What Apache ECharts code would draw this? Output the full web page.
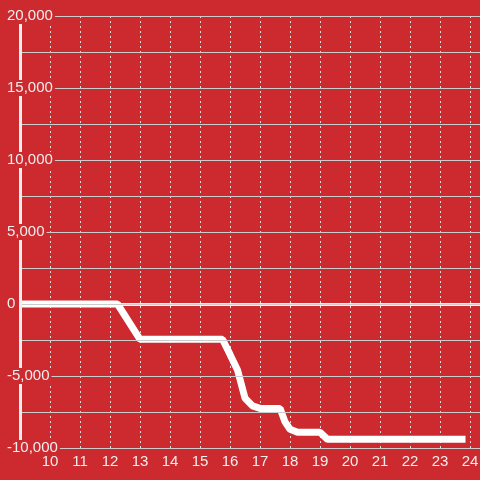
<!DOCTYPE html>
<html>
<head>
<meta charset="utf-8">
<style>
  html, body { margin: 0; padding: 0; background: #cc2a2f; }
  #chart { width: 480px; height: 480px; }
</style>
<script src="https://cdn.jsdelivr.net/npm/echarts@6/dist/echarts.min.js"></script>
</head>
<body>
<div id="chart"></div>
<script>
// hour of day / running total
const hours = [9, 12.25, 13, 15.75, 16, 16.25, 16.5, 16.75, 17, 17.67, 17.83, 18, 18.25, 19, 19.25, 23.85]
const totals = [0, 0, -2450, -2450, -3500, -4580, -6530, -7080, -7250, -7250, -8170, -8700, -8900, -8900, -9400, -9400]

const bg = '#cc2a2f'
const labelColor = '#eeeeee'

const chart = echarts.init(document.getElementById('chart'))

chart.setOption({
  backgroundColor: bg,
  animation: false,
  textStyle: { fontFamily: 'Liberation Sans, Arial, sans-serif' },
  grid: {
    left: 20,
    width: 480, // runs past the right edge, 25 is off canvas
    top: 16,
    bottom: 32,
    outerBoundsMode: 'none'
  },
  xAxis: {
    type: 'value',
    min: 9,
    max: 25,
    interval: 1,
    axisLine: { show: false },
    axisTick: { show: false },
    axisLabel: {
      color: labelColor,
      fontSize: 15,
      margin: 6,
      showMinLabel: false,
      showMaxLabel: false
    },
    splitLine: {
      show: true,
      lineStyle: { color: '#dddddd', type: [2, 3], width: 1 }
    }
  },
  yAxis: {
    type: 'value',
    min: -10000,
    max: 20000,
    interval: 5000,
    z: 5,
    axisLine: {
      show: true,
      lineStyle: { color: '#eeeeee', width: 3 }
    },
    axisTick: { show: false },
    axisLabel: {
      color: labelColor,
      fontSize: 15,
      lineHeight: 16,
      align: 'left',
      margin: 13,
      padding: [0, 2, 0, 0],
      backgroundColor: bg,
      formatter: v => v.toLocaleString('en-US')
    },
    splitLine: {
      lineStyle: { color: '#cccccc', width: 1 }
    },
    minorTick: { show: false, splitNumber: 2 },
    minorSplitLine: {
      show: true,
      lineStyle: { color: '#cccccc', width: 1 }
    }
  },
  series: [{
    type: 'line',
    data: hours.map((h, i) => [h, totals[i]]),
    showSymbol: false,
    lineStyle: { color: '#ffffff', width: 7 },
    z: 3,
    markLine: {
      silent: true,
      symbol: 'none',
      label: { show: false },
      lineStyle: { color: '#eeeeee', width: 3, type: 'solid' },
      data: [{ yAxis: 0 }],
      z: 2
    }
  }]
})
</script>
</body>
</html>
